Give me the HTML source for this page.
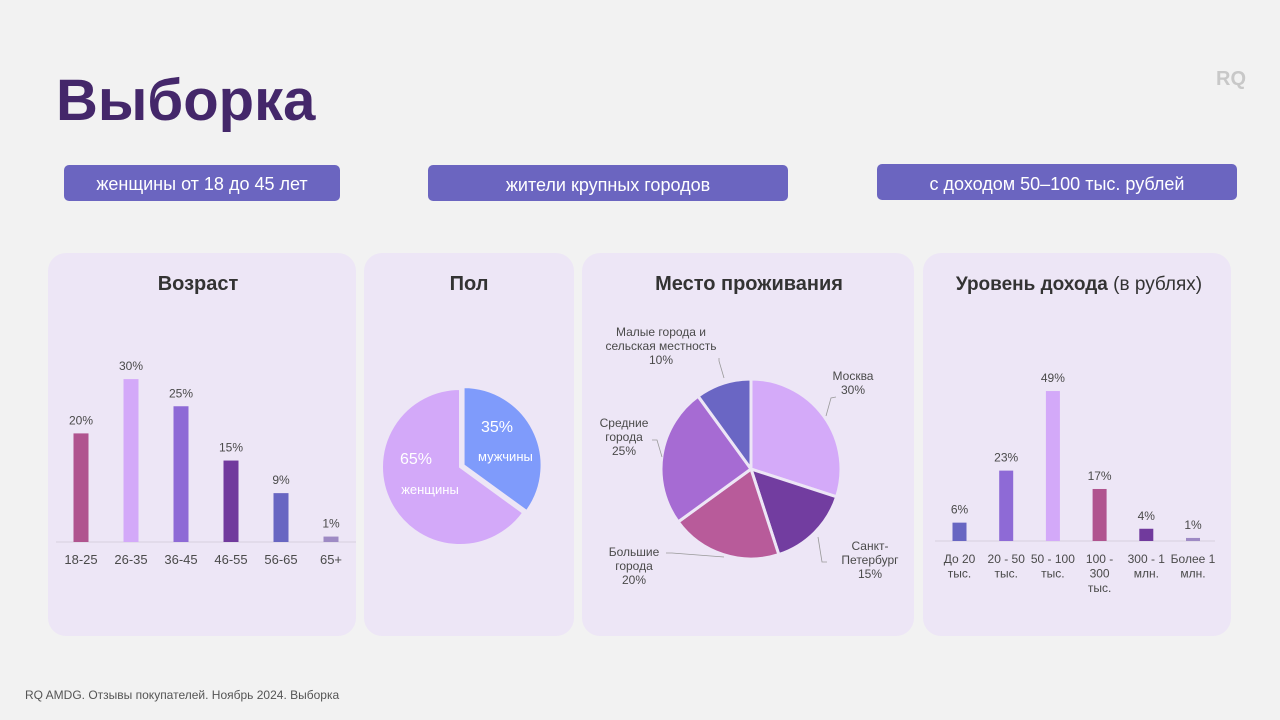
<!DOCTYPE html>
<html><head><meta charset="utf-8"><style>
body{margin:0;width:1280px;height:720px;background:#f2f2f2;overflow:hidden;font-family:"Liberation Sans","DejaVu Sans",sans-serif}
svg{position:absolute;left:0;top:0}
</style></head><body>
<svg id="s" width="1280" height="720" xmlns="http://www.w3.org/2000/svg" font-family="Liberation Sans, DejaVu Sans, sans-serif">
<text x="56" y="120" font-size="58" font-weight="bold" fill="#44276a">Выборка</text>
<text x="1216" y="85" font-size="20" font-weight="bold" fill="#c8c8c8">RQ</text>
<g><rect x="64" y="165" width="276" height="36" rx="5" fill="#6b65c0"/><text x="202" y="190" text-anchor="middle" font-size="18" fill="#fff">женщины от 18 до 45 лет</text></g>
<g><rect x="428" y="165" width="360" height="36" rx="5" fill="#6b65c0"/><text x="608" y="191" text-anchor="middle" font-size="18" fill="#fff">жители крупных городов</text></g>
<g><rect x="877" y="164" width="360" height="36" rx="5" fill="#6b65c0"/><text x="1057" y="190" text-anchor="middle" font-size="18" fill="#fff">с доходом 50–100 тыс. рублей</text></g>
<rect x="48" y="253" width="308" height="383" rx="18" fill="#ede6f6"/>
<rect x="364" y="253" width="210" height="383" rx="18" fill="#ede6f6"/>
<rect x="582" y="253" width="332" height="383" rx="18" fill="#ede6f6"/>
<rect x="923" y="253" width="308" height="383" rx="18" fill="#ede6f6"/>
<text x="198" y="290" text-anchor="middle" font-size="20" font-weight="bold" fill="#333">Возраст</text>
<text x="469" y="290" text-anchor="middle" font-size="20" font-weight="bold" fill="#333">Пол</text>
<text x="749" y="290" text-anchor="middle" font-size="20" font-weight="bold" fill="#333">Место проживания</text>
<text x="1079" y="290" text-anchor="middle" font-size="19" fill="#333"><tspan font-weight="bold">Уровень дохода</tspan> (в рублях)</text>
<line x1="56" y1="542" x2="356" y2="542" stroke="#d6d0de"/>
<line x1="935" y1="541" x2="1215" y2="541" stroke="#d6d0de"/>
<g id="age"></g><g id="inc"></g><g id="gender"></g><g id="loc"></g>
<text x="25" y="699" font-size="12" fill="#555">RQ AMDG. Отзывы покупателей. Ноябрь 2024. Выборка</text>
</svg>
<script>
const ageCats=["18-25","26-35","36-45","46-55","56-65","65+"];
const ageVals=[20,30,25,15,9,1];
const ageColors=["#b0548f","#d3a9f9","#8e6ad6","#713a9d","#6866c2","#9e8ac4"];
const incCats=[["До 20","тыс."],["20 - 50","тыс."],["50 - 100","тыс."],["100 -","300","тыс."],["300 - 1","млн."],["Более 1","млн."]];
const incVals=[6,23,49,17,4,1];
const incColors=["#6866c2","#8e6ad6","#d3a9f9","#b0548f","#713a9d","#9e8ac4"];
const genderCats=["мужчины","женщины"];
const genderVals=[35,65];
const locCats=[["Москва","30%"],["Санкт-","Петербург","15%"],["Большие","города","20%"],["Средние","города","25%"],["Малые города и","сельская местность","10%"]];
const locVals=[30,15,20,25,10];
const locColors=["#d4aaf9","#723da0","#b85b9a","#a66bd3","#6a66c4"];
const NS="http://www.w3.org/2000/svg";
function mk(p,t,a){const e=document.createElementNS(NS,t);for(const k in a)e.setAttribute(k,a[k]);p.appendChild(e);return e;}
function txt(p,x,y,s,size,fill,anchor){const e=mk(p,"text",{x:x,y:y,"font-size":size,fill:fill,"text-anchor":anchor||"middle"});e.textContent=s;return e;}
function bars(g,cats,vals,colors,x0,dx,base,scale,w,name){
 vals.forEach((v,i)=>{const cx=x0+i*dx,h=v*scale;
  const r=mk(g,"rect",{x:cx-w/2,y:base-h,width:w,height:h,fill:colors[i]});
  
  
  const t=txt(g,cx,base-h-9,v+"%",12,"#4a4a4a");
  
  
  const lines=Array.isArray(cats[i])?cats[i]:[cats[i]];
  lines.forEach((l,j)=>{const c=txt(g,cx,base+22+j*14.5,l,lines.length>1?12:13,"#4a4a4a");
   
   });
 });
}
bars(document.getElementById("age"),ageCats,ageVals,ageColors,81,50,542,5.43,15,"age");
bars(document.getElementById("inc"),incCats,incVals,incColors,959.5,46.7,541,3.06,14,"income");
function arc(cx,cy,r,a0,a1){const p=a=>[cx+r*Math.sin(a),cy-r*Math.cos(a)];const s=p(a0),e=p(a1);
 return `M${cx},${cy}L${s[0]},${s[1]}A${r},${r} 0 ${a1-a0>Math.PI?1:0} 1 ${e[0]},${e[1]}Z`;}
(function(){const g=document.getElementById("gender");const tot=genderVals.reduce((a,b)=>a+b,0);
 const cols=["#7f9bfb","#d3a9f9"];let a=0;const cx=460,cy=467,r=78;
 genderVals.forEach((v,i)=>{const a1=a+v/tot*2*Math.PI;const mid=(a+a1)/2;const off=i===0?4:0;
  const ox=off*Math.sin(mid),oy=-off*Math.cos(mid);
  const p=mk(g,"path",{d:arc(cx+ox,cy+oy,r,a,a1),fill:cols[i],stroke:"#ede6f6","stroke-width":2});
  
  
  a=a1;});
 const t1=txt(g,497,432,genderVals[0]+"%",16,"#fff");
 const t2=txt(g,478,461,genderCats[0],13,"#fff","start");
 const t3=txt(g,416,464,genderVals[1]+"%",16,"#fff");
 const t4=txt(g,430,494,genderCats[1],13,"#fff");
})();
(function(){const g=document.getElementById("loc");const tot=locVals.reduce((a,b)=>a+b,0);
 const cx=751,cy=469,r=90;let a=0;
 const labelPos=[[853,380],[870,550],[634,556],[624,427],[661,336]];
 const lineEnds=[[[826,416],[831,398],[836,397]],[[818,537],[822,562],[827,562]],[[724,557],[672,553],[666,553]],[[662,457],[657,440],[652,440]],[[724,378],[719,361],[719,358]]];
 locVals.forEach((v,i)=>{const a1=a+v/tot*2*Math.PI;
  const p=mk(g,"path",{d:arc(cx,cy,r,a,a1),fill:locColors[i],stroke:"#ede6f6","stroke-width":3,"stroke-linejoin":"round"});
  
  
  a=a1;
  const le=lineEnds[i];const pl=mk(g,"polyline",{points:le.map(q=>q.join(",")).join(" "),fill:"none",stroke:"#999","stroke-width":0.8});
  
  
  const lines=locCats[i].slice();lines[lines.length-1]=v+"%";
  lines.forEach((l,j)=>{const t=txt(g,labelPos[i][0],labelPos[i][1]+j*14,l,12,"#4a4a4a");
   
   });
 });
})();
</script>
</body></html>
